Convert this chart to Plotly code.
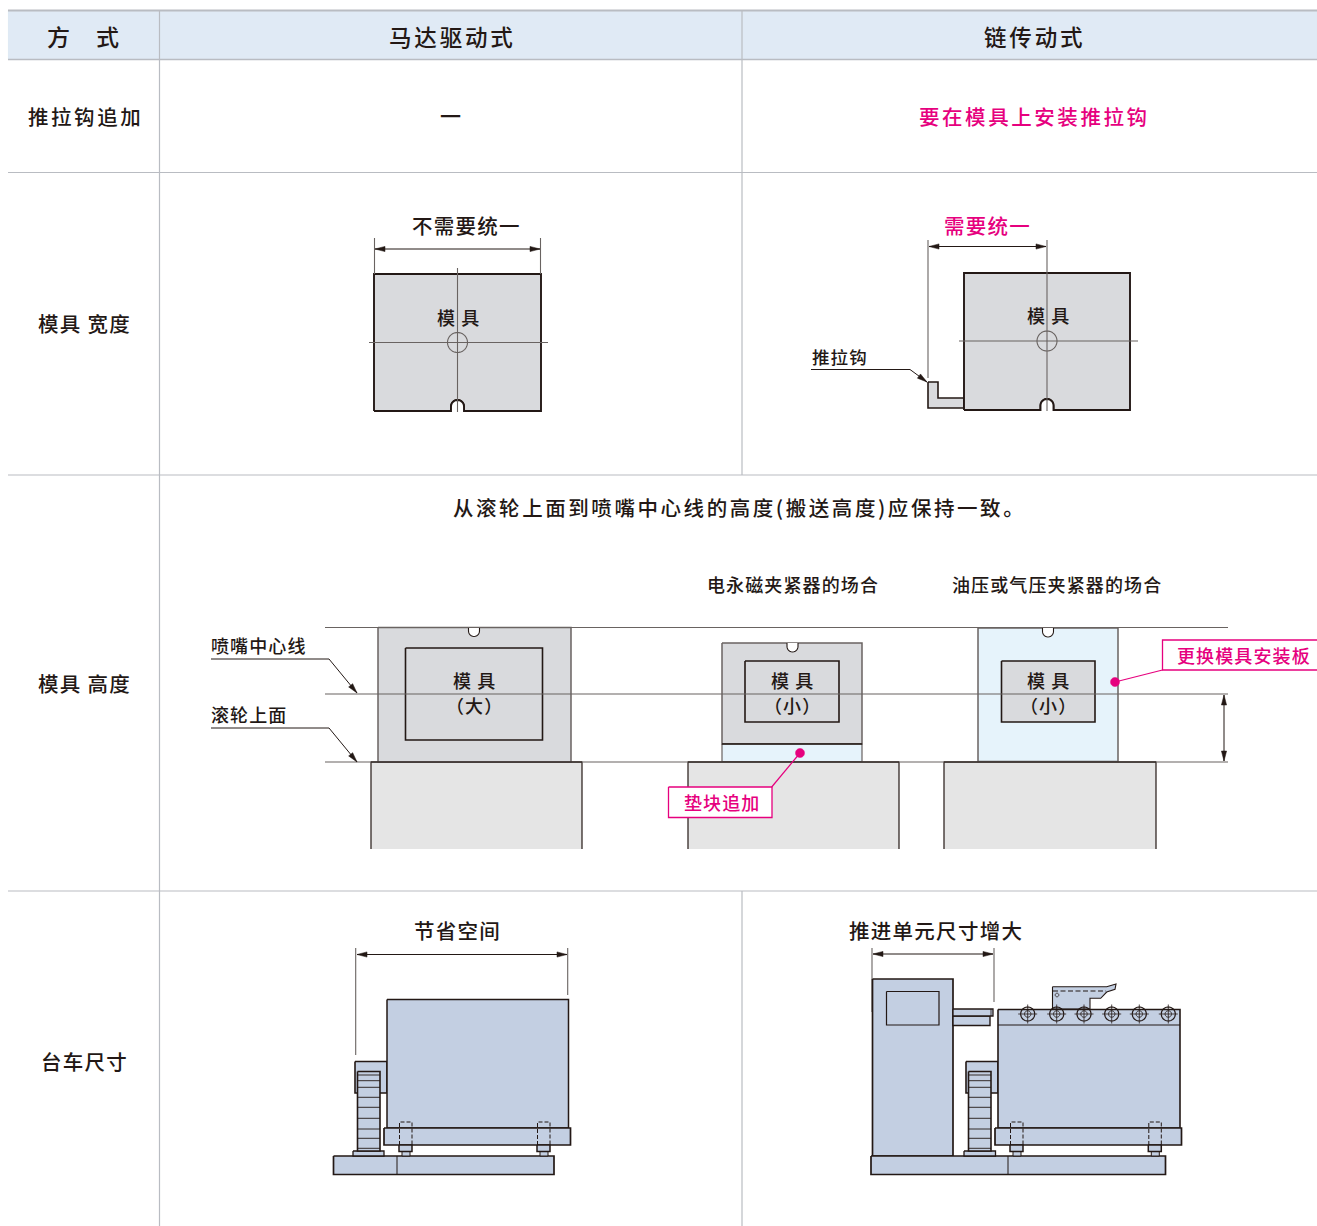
import math
import plotly.graph_objects as go

# ---- colours
DARK = "#231815"
GREY = "#696361"
RULE = "#b9bcc2"
PINK = "#e6007e"
HEAD = "#e0eaf5"
MOLD = "#d9dadd"
BASE = "#e5e5e5"
ICE = "#e6f3fb"
CART = "#c3cfe2"

# ---- table frame
rows_y = [59.5, 172.5, 475, 891]
table_x = [8, 1317]
col_x = [159.5, 742]

# ---- texts: (text, x, y, size, colour, hair-space count)
texts = [
    ("方\u3000式", 83, 37, 23, DARK, 1),
    ("马达驱动式", 450.5, 37, 22.5, DARK, 2),
    ("链传动式", 1033, 37, 22.5, DARK, 2),
    ("推拉钩追加", 84, 117, 20.5, DARK, 2),
    ("一", 450.5, 116.5, 21, DARK, 0),
    ("要在模具上安装推拉钩", 1033, 117, 20.5, PINK, 2),
    ("模具 宽度", 84, 324, 20.5, DARK, 1),
    ("不需要统一", 465.5, 226, 20.5, DARK, 1),
    ("模 具", 458, 318, 18, DARK, 1),
    ("需要统一", 986.5, 226, 20.5, PINK, 1),
    ("模 具", 1048, 316, 18, DARK, 1),
    ("推拉钩", 839, 357.5, 17.5, DARK, 1),
    ("模具 高度", 84, 684, 20.5, DARK, 1),
    ("从滚轮上面到喷嘴中心线的高度(搬送高度)应保持一致。", 738, 508, 20.5, DARK, 2),
    ("电永磁夹紧器的场合", 792.5, 585, 18, DARK, 1),
    ("油压或气压夹紧器的场合", 1056.5, 585, 18, DARK, 1),
    ("喷嘴中心线", 258, 646, 18, DARK, 1),
    ("滚轮上面", 248.5, 715, 18, DARK, 1),
    ("模 具", 474, 681.5, 18, DARK, 1),
    ("（大）", 474, 706.5, 18, DARK, 1),
    ("模 具", 792, 681.5, 18, DARK, 1),
    ("（小）", 792, 706.5, 18, DARK, 1),
    ("模 具", 1048, 681.5, 18, DARK, 1),
    ("（小）", 1048, 706.5, 18, DARK, 1),
    ("垫块追加", 721, 803, 18, PINK, 1),
    ("更换模具安装板", 1243, 656, 18, PINK, 1),
    ("台车尺寸", 84, 1062, 20.5, DARK, 1),
    ("节省空间", 456.5, 931, 20.5, DARK, 1),
    ("推进单元尺寸增大", 935.5, 931, 20.5, DARK, 1),
]

# ---- mould width panels: (x0, x1, y0, y1, centre x, centre y, line x0, line x1, line y0)
width_molds = [
    (374, 541, 274, 411, 457.5, 342.5, 369, 548, 268),
    (964, 1130, 273, 410, 1047, 341, 959, 1138, 240),
]
hook_x = [928, 938, 938, 964, 964, 928, 928]
hook_y = [382, 382, 398, 398, 408, 408, 382]

# ---- height panels
guide_y = [627.5, 694, 762]
guide_x = [325, 1228]
bases_x = [(371, 582), (688, 899), (944, 1156)]
base_top, base_bottom = 762, 849
outer_molds = [  # x0, x1, y0, y1, fill, notch x
    (378, 571, 627.5, 762, MOLD, 474),
    (722, 862, 643, 744, MOLD, 792.5),
    (978, 1118, 628, 761.5, ICE, 1048),
]
inner_molds = [  # x0, x1, y0, y1, fill
    (405.5, 542.5, 648, 740, None),
    (745, 839, 661, 722, None),
    (1001.5, 1095, 661, 722, MOLD),
]
spacer = (722, 862, 744, 761.5)

# ---- cart panels
col_lines_y = [1075, 1080.7, 1087.3, 1097.3, 1107.3, 1118.3, 1129, 1138.3, 1148.3]
roller_x = [1027.7, 1056.7, 1084, 1111.7, 1139.3, 1168.3]
roller_y = 1014
left_feet = [399, 537]
right_feet = [1010, 1148.3]
push_x = [1052.5, 1106.7, 1116, 1115, 1106.7, 1100.7, 1090, 1090, 1052.5, 1052.5]
push_y = [986.7, 986.7, 984, 989.3, 992, 998.3, 998.3, 1009, 1009, 986.7]

fig = go.Figure()


def line(xs, ys, color=DARK, width=1.0, fill=None, dash=None):
    kw = dict(fill="toself", fillcolor=fill) if fill else {}
    fig.add_trace(go.Scatter(
        x=list(xs), y=list(ys), mode="lines",
        line=dict(color=color, width=width, dash=dash, simplify=False),
        hoverinfo="skip", showlegend=False, **kw))


def rect(x0, x1, y0, y1, color=DARK, width=1.8, fill=None):
    line([x0, x1, x1, x0, x0], [y0, y0, y1, y1, y0], color, width, fill)


def circle(cx, cy, r, color=DARK, width=1.0, fill=None):
    a = [2 * math.pi * i / 48 for i in range(49)]
    line([cx + r * math.cos(t) for t in a], [cy + r * math.sin(t) for t in a], color, width, fill)


def head(x, y, dx, dy, size=10, half=2.6):
    px, py = -dy, dx
    bx, by = x - dx * size, y - dy * size
    line([x, bx + px * half, bx - px * half, x], [y, by + py * half, by - py * half, y],
         DARK, 0.5, DARK)


def hdim(x0, x1, y):
    line([x0, x1], [y, y], DARK, 1)
    head(x0, y, -1, 0)
    head(x1, y, 1, 0)


def leader(xs, ys):
    line(xs, ys, DARK, 1)
    dx, dy = xs[-1] - xs[-2], ys[-1] - ys[-2]
    n = math.hypot(dx, dy)
    head(xs[-1], ys[-1], dx / n, dy / n)


def notch_points(cx, y_edge, depth, half, sign):
    """U-shaped notch: sign=-1 rises from a bottom edge, +1 drops from a top edge."""
    xs, ys = [cx - half], [y_edge]
    for i in range(13):
        t = math.pi - math.pi * i / 12
        xs.append(cx + half * math.cos(t))
        ys.append(y_edge + sign * (depth - half + half * math.sin(t)))
    xs.append(cx + half)
    ys.append(y_edge)
    return xs, ys


# table
line([table_x[0], table_x[1], table_x[1], table_x[0], table_x[0]], [10.5, 10.5, 59.5, 59.5, 10.5], HEAD, 0.1, HEAD)
line(table_x, [10.5, 10.5], RULE, 2)
for y in rows_y:
    line(table_x, [y, y], RULE, 1.4 if y == 59.5 else 1.2)
line([col_x[0]] * 2, [10, 1226], RULE, 1.2)
line([col_x[1]] * 2, [10, 475], RULE, 1.2)
line([col_x[1]] * 2, [891, 1226], RULE, 1.2)

# mould width panels
line(hook_x, hook_y, DARK, 1.6, MOLD)
for x0, x1, y0, y1, cx, cy, lx0, lx1, ly0 in width_molds:
    nx, ny = notch_points(cx, y1, 11, 6.5, -1)
    line([x0, x0, x1, x1] + nx[::-1] + [x0], [y1, y0, y0, y1] + ny[::-1] + [y1], DARK, 1.9, MOLD)
    line(nx, ny, DARK, 1.9, "#ffffff")
    line([cx, cx], [ly0, y1 + 1], GREY, 1.1)
    line([lx0, lx1], [cy, cy], GREY, 1.1)
    circle(cx, cy, 10, GREY, 1.1)
line([374.5, 374.5], [238, 274], GREY, 1.1)
line([540.5, 540.5], [238, 274], GREY, 1.1)
hdim(375, 540, 249)
line([928, 928], [240, 378], GREY, 1.1)
hdim(929, 1046, 246.5)
leader([811, 910, 927], [369.5, 369.5, 382])

# height panels
for (x0, x1) in bases_x:
    line([x0, x0, x1, x1], [base_bottom, base_top, base_top, base_bottom], DARK, 1.2, BASE)
for x0, x1, y0, y1, fill, nx0 in outer_molds:
    rect(x0, x1, y0, y1, GREY, 1.5, fill)
    nx, ny = notch_points(nx0, y0, 9, 5.5, 1)
    line(nx, ny, DARK, 1.1, "#ffffff")
rect(spacer[0], spacer[1], spacer[2], spacer[3], GREY, 1.2, ICE)
line(spacer[:2], [spacer[2], spacer[2]], DARK, 1.6)
for x0, x1, y0, y1, fill in inner_molds:
    rect(x0, x1, y0, y1, DARK, 1.6, fill)
for y in guide_y:
    line(guide_x, [y, y], GREY, 1.2)
for (x0, x1) in bases_x:
    line([x0, x1], [base_top, base_top], DARK, 1.2)
leader([211, 329, 357], [659, 659, 693])
leader([211, 329, 357], [728, 728, 762])
line([1224, 1224], [695, 761], DARK, 1)
head(1224, 695, 0, -1)
head(1224, 761, 0, 1)

# pink callouts
line([800, 771.7], [753, 787], PINK, 1.2)
rect(668.5, 772, 787, 817.5, PINK, 1.3, "#ffffff")
circle(800, 753, 4.5, PINK, 0.5, PINK)
line([1115, 1162.5], [682, 670], PINK, 1.2)
line([1317, 1162.5, 1162.5, 1317], [640, 640, 670, 670], PINK, 1.3)
circle(1115, 682, 4.5, PINK, 0.5, PINK)


def foot(x):
    rect(x + 3, x + 11, 1151, 1156, DARK, 1.0, CART)
    rect(x, x + 13, 1145, 1151.5, DARK, 1.5, CART)
    line([x + 0.5, x + 0.5, x + 13, x + 13], [1145, 1122, 1122, 1145], DARK, 1.0, dash="4px,2px")


def column(x0, x1):
    rect(x0, x1, 1071.5, 1151, DARK, 1.6, CART)
    for y in col_lines_y:
        line([x0, x1], [y, y], DARK, 0.9)


# left cart
line([355.7, 355.7], [948, 1055], GREY, 1.1)
line([567.7, 567.7], [948, 995], GREY, 1.1)
hdim(357, 567, 954.5)
rect(333.5, 554, 1156, 1174.5, DARK, 1.7, CART)
line([397, 397], [1156, 1174.5], DARK, 1.0)
rect(353, 384, 1151, 1156, DARK, 1.3, CART)
rect(355, 387, 1061.5, 1093, DARK, 1.6, CART)
column(357.5, 380)
rect(387, 568.5, 999.5, 1128, DARK, 1.5, CART)
rect(384, 570.5, 1128, 1145, DARK, 1.7, CART)
for fx in left_feet:
    foot(fx)

# right cart
line([872, 872], [948, 1012], GREY, 1.1)
line([994, 994], [948, 1002], GREY, 1.1)
hdim(873, 993, 954)
rect(872.5, 953, 979, 1156, DARK, 1.7, CART)
rect(886.5, 939, 991.5, 1025, DARK, 1.2, CART)
rect(953, 990, 1016, 1025.5, DARK, 1.4, CART)
rect(953, 993, 1009, 1016, DARK, 1.3, CART)
line([991, 991], [1009, 1016], DARK, 0.8)
rect(871, 1165.5, 1156, 1174.5, DARK, 1.7, CART)
line([1008, 1008], [1156, 1174.5], DARK, 1.0)
rect(964, 995.5, 1151, 1156, DARK, 1.3, CART)
line(push_x, push_y, DARK, 1.1, CART)
line([1053, 1106], [991, 991], DARK, 1.1, dash="5px,2.5px")
circle(1057, 995, 1.8, DARK, 0.8)
rect(966, 998, 1061.5, 1093, DARK, 1.6, CART)
column(968.5, 991)
rect(998, 1180, 1009.5, 1128, DARK, 1.6, CART)
line([998, 1180], [1025, 1025], DARK, 1.1)
rect(995, 1181.5, 1128, 1145, DARK, 1.7, CART)
for fx in right_feet:
    foot(fx)
for rx in roller_x:
    line([rx - 9.5, rx + 9.5], [roller_y, roller_y], DARK, 0.8)
    line([rx, rx], [roller_y - 9.5, roller_y + 9.5], DARK, 0.8)
    circle(rx, roller_y, 7, DARK, 1.2)
    circle(rx, roller_y, 3.2, DARK, 0.9)

HAIR = "\u200a"
TEXT_SHIFT = -1.5
for t, x, y, size, color, gap in texts:
    shown = (HAIR * gap).join(t) if gap else t
    fig.add_annotation(x=x, y=y + TEXT_SHIFT, text=shown, showarrow=False, xanchor="center", yanchor="middle",
                       font=dict(family="Noto Sans CJK SC", size=size, color=color, weight=500))

fig.update_layout(
    width=1317, height=1226, margin=dict(l=0, r=0, t=0, b=0),
    paper_bgcolor="#ffffff", plot_bgcolor="#ffffff", showlegend=False,
    xaxis=dict(range=[0, 1317], visible=False, fixedrange=True),
    yaxis=dict(range=[1226, 0], visible=False, fixedrange=True),
)
fig.write_html("out.html", config={"displayModeBar": False},
               post_script="document.body.style.margin='0';document.documentElement.style.overflow='hidden';")
